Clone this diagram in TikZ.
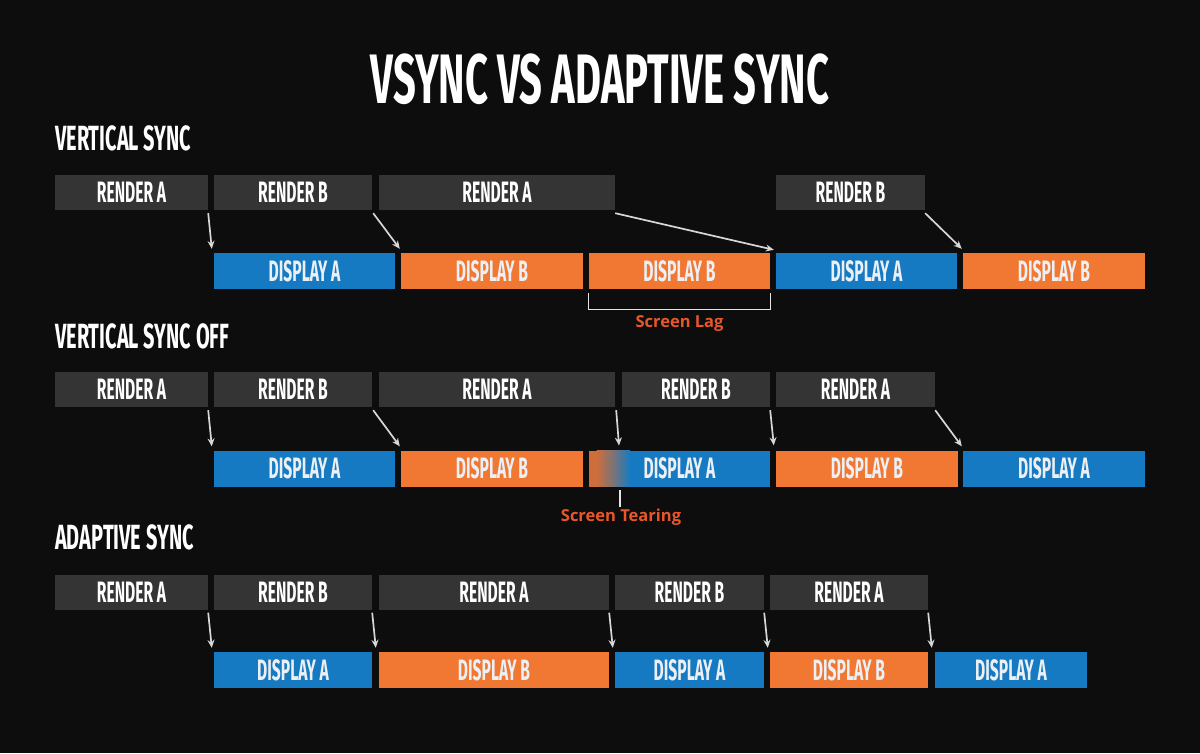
\documentclass[tikz,border=0pt]{standalone}
\usepackage{fontspec}
\setmainfont{Fira Sans}
\newfontfamily\condfont[FakeStretch=0.53]{Fira Sans}
\newfontfamily\headfont[FakeStretch=0.57]{Fira Sans}
\newfontfamily\labfont{Open Sans}
\usetikzlibrary{arrows.meta,calc}
\definecolor{bgc}{RGB}{13,13,13}
\definecolor{rgrey}{RGB}{52,52,52}
\definecolor{dblue}{RGB}{22,122,194}
\definecolor{dorange}{RGB}{240,120,50}
\definecolor{torange}{RGB}{205,110,60}
\definecolor{labred}{RGB}{232,86,42}
\definecolor{arrgrey}{RGB}{215,215,215}
\definecolor{dtext}{RGB}{236,240,244}
\begin{document}
\begin{tikzpicture}[x=1pt,y=-1pt,
  rbox/.style={fill=rgrey, text=white, inner sep=0pt, minimum height=35pt, minimum width=#1,
    font=\condfont\bfseries\fontsize{29.5}{29.5}\selectfont},
  dbox/.style={inner sep=0pt, minimum height=36pt, minimum width=#1, text=dtext,
    font=\condfont\bfseries\fontsize{29.5}{29.5}\selectfont},
  bluebox/.style={dbox=#1, fill=dblue},
  orangebox/.style={dbox=#1, fill=dorange},
  arr/.style={draw=arrgrey, line width=1.7pt, -{Stealth[length=8pt,width=7pt]}},
  sect/.style={anchor=west, text=white, inner sep=0pt, font=\headfont\bfseries\fontsize{35}{35}\selectfont},
  lbl/.style={text=labred, inner sep=0pt, font=\labfont\bfseries\fontsize{16.5}{16.5}\selectfont},
  markline/.style={draw=white!90!black, line width=1.2pt}
]
\fill[bgc] (0,0) rectangle (1200,753);
\useasboundingbox (0,0) rectangle (1200,753);

% title
\node[text=white, inner sep=0pt, font=\headfont\bfseries\fontsize{70}{70}\selectfont] (title) at (600,79) {VSYNC VS ADAPTIVE SYNC};

% ---------- VERTICAL SYNC ----------
\node[sect] (s1) at (55,138) {VERTICAL SYNC};
\node[rbox=153pt] (r11) at (131.5,192.5) {RENDER A};
\node[rbox=158pt] (r12) at (293,192.5) {RENDER B};
\node[rbox=236pt] (r13) at (497,192.5) {RENDER A};
\node[rbox=149pt] (r14) at (850.5,192.5) {RENDER B};
\node[bluebox=181pt] (d11) at (304.5,271) {DISPLAY A};
\node[orangebox=182pt] (d12) at (492,271) {DISPLAY B};
\node[orangebox=181pt] (d13) at (679.5,271) {DISPLAY B};
\node[bluebox=181pt] (d14) at (866.5,271) {DISPLAY A};
\node[orangebox=182pt] (d15) at (1054,271) {DISPLAY B};
\draw[arr] ($(r11.south east)+(0,3)$) -- ($(d11.north west)+(-2,-4)$);
\draw[arr] ($(r12.south east)+(1,3)$) -- ($(d12.north west)+(-1,-4)$);
\draw[arr] ($(r13.south east)+(0,3)$) -- ($(d14.north west)+(-2,-3)$);
\draw[arr] ($(r14.south east)+(0,3)$) -- ($(d15.north west)+(-1,-4)$);
\draw[markline] ($(d13.south west)+(0,4)$) -- ($(d13.south west)+(0,20)$) -- ($(d13.south east)+(0,20)$) -- ($(d13.south east)+(0,4)$);
\node[lbl] (lag) at (679.5,324) {Screen Lag};

% ---------- VERTICAL SYNC OFF ----------
\node[sect] (s2) at (55,336) {VERTICAL SYNC OFF};
\node[rbox=153pt] (r21) at (131.5,389.5) {RENDER A};
\node[rbox=158pt] (r22) at (293,389.5) {RENDER B};
\node[rbox=236pt] (r23) at (497,389.5) {RENDER A};
\node[rbox=148pt] (r24) at (696,389.5) {RENDER B};
\node[rbox=159pt] (r25) at (855.5,389.5) {RENDER A};
\node[bluebox=181pt] (d21) at (304.5,468.5) {DISPLAY A};
\node[orangebox=182pt] (d22) at (492,468.5) {DISPLAY B};
% torn frame background
\fill[dblue] (589,450.5) rectangle (770,486.5);
\fill[torange] (589,450.5) rectangle (597,486.5);
\shade[left color=torange, right color=dblue, middle color=torange!55!dblue] (596.5,450.5) rectangle (630,486.5);
\node[dbox=181pt] (d23) at (679.5,468.5) {DISPLAY A};
\node[orangebox=182pt] (d24) at (867,468.5) {DISPLAY B};
\node[bluebox=182pt] (d25) at (1054,468.5) {DISPLAY A};
\coordinate (tear) at (620,450.5);
\draw[arr] ($(r21.south east)+(0,3)$) -- ($(d21.north west)+(-2,-4)$);
\draw[arr] ($(r22.south east)+(1,3)$) -- ($(d22.north west)+(-1,-4)$);
\draw[arr] ($(r23.south east)+(1,3)$) -- ($(tear)+(-1,-5)$);
\draw[arr] ($(r24.south east)+(0,3)$) -- ($(d24.north west)+(-2,-5)$);
\draw[arr] ($(r25.south east)+(0,3)$) -- ($(d25.north west)+(-1,-4)$);
\draw[markline] (620,490) -- (620,507);
\node[lbl] (tearlbl) at (621,517) {Screen Tearing};

% ---------- ADAPTIVE SYNC ----------
\node[sect] (s3) at (55,537) {ADAPTIVE SYNC};
\node[rbox=153pt] (r31) at (131.5,592) {RENDER A};
\node[rbox=158pt] (r32) at (293,592) {RENDER B};
\node[rbox=230pt] (r33) at (494,592) {RENDER A};
\node[rbox=149pt] (r34) at (689.5,592) {RENDER B};
\node[rbox=158pt] (r35) at (849,592) {RENDER A};
\node[bluebox=158pt] (d31) at (293,670) {DISPLAY A};
\node[orangebox=230pt] (d32) at (494,670) {DISPLAY B};
\node[bluebox=149pt] (d33) at (689.5,670) {DISPLAY A};
\node[orangebox=158pt] (d34) at (849,670) {DISPLAY B};
\node[bluebox=152pt] (d35) at (1011,670) {DISPLAY A};
\draw[arr] ($(r31.south east)+(0,3)$) -- ($(d31.north west)+(-2,-4)$);
\draw[arr] ($(r32.south east)+(0,3)$) -- ($(d32.north west)+(-3,-4)$);
\draw[arr] ($(r33.south east)+(0,3)$) -- ($(d33.north west)+(-2,-4)$);
\draw[arr] ($(r34.south east)+(0,3)$) -- ($(d34.north west)+(-2,-4)$);
\draw[arr] ($(r35.south east)+(0,3)$) -- ($(d35.north west)+(-3,-4)$);
\end{tikzpicture}
\end{document}
